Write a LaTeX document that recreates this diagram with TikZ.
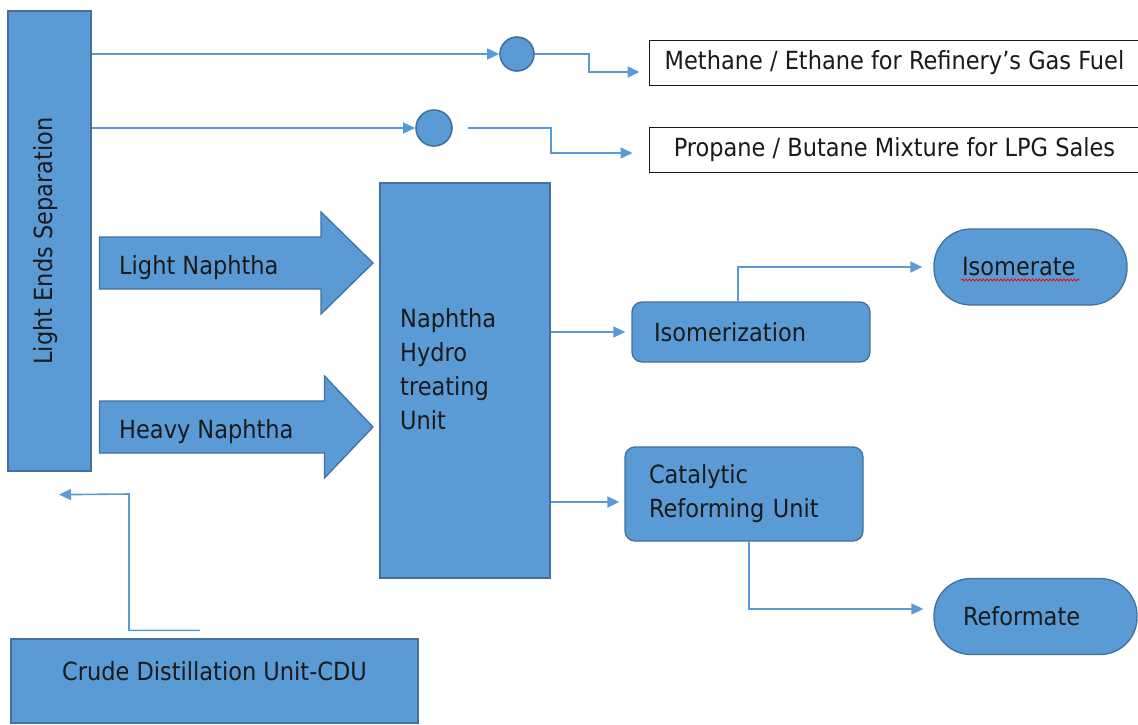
\documentclass[tikz,border=0pt]{standalone}
\usepackage{fontspec}
\setmainfont{DejaVu Sans Condensed}
\usepackage{xcolor}
\usetikzlibrary{arrows.meta, positioning, decorations.pathmorphing}

\definecolor{unitblue}{HTML}{5B9BD5}
\definecolor{unitedge}{HTML}{41719C}
\definecolor{flowblue}{HTML}{5B9BD5}
\definecolor{inkgray}{HTML}{1A1A1A}

\begin{document}
\begin{tikzpicture}[x=1pt, y=-1pt,
    txt/.style={inner sep=0pt, text=inkgray, font=\fontsize{25}{34}\selectfont},
    unit/.style={draw=unitedge, fill=unitblue, line width=1.3pt, inner sep=0pt},
    box/.style={unit, txt, rounded corners=10pt, align=left, minimum height=60pt},
    product/.style={unit, txt, rounded corners=37pt, align=left, minimum height=76pt},
    sales/.style={draw=inkgray, fill=white, line width=1pt, txt, minimum width=491pt, minimum height=45pt},
    drum/.style={unit, circle, line width=1.6pt},
    flow/.style={draw=flowblue, line width=1.6pt, -{Triangle[length=12pt, width=11pt]}},
    spell/.style={red, line width=0.8pt, decorate, decoration={snake, amplitude=1pt, segment length=3.5pt}}]
    \useasboundingbox (0,0) rectangle (1138,724);

    % Light ends column
    \node[unit, minimum width=83pt, minimum height=460pt] (les) at (49.5,241) {};
    \node[txt, rotate=90] (lestext) at (46,241) {Light Ends Separation};

    % Gas drums and sales
    \node[drum, minimum size=34pt] (gas1) at (517,54) {};
    \node[drum, minimum size=36pt] (gas2) at (434,128) {};
    \node[sales] (fuel) at (894.5,62.5) {Methane / Ethane for Refinery’s Gas Fuel};
    \node[sales] (lpg) at (894.5,149.5) {Propane / Butane Mixture for LPG Sales};

    % Naphtha cuts
    \foreach \yc/\hx/\name/\label in {263/321/ln/Light Naphtha, 427/324.5/hn/Heavy Naphtha} {
        \filldraw[unit] (99.5,\yc-26) -- (\hx,\yc-26) -- (\hx,\yc-51) -- (373,\yc)
            -- (\hx,\yc+51) -- (\hx,\yc+26) -- (99.5,\yc+26) -- cycle;
        \node[txt, anchor=base west] (\name) at (119,\yc+11) {\label};
    }

    % Hydrotreater
    \node[unit, minimum width=170pt, minimum height=395pt] (nht) at (465,380.5) {};
    \node[txt, anchor=north west, align=left] (nhttext) at (400,308) {Naphtha\\Hydro\\treating\\Unit};

    % Downstream units
    \node[box, text width=194pt, inner xsep=22pt] (iso) at (751,332) {Isomerization};
    \node[box, text width=190pt, inner xsep=24pt, minimum height=94pt] (cat) at (744,494) {Catalytic\\Reforming Unit};
    \node[product, text width=137pt, inner xsep=28pt] (isomer) at (1030.5,267) {Isomerate};
    \node[product, text width=145pt, inner xsep=29pt] (reform) at (1035.5,616.5) {Reformate};
    \draw[spell] ([xshift=28pt, yshift=-13pt]isomer.west) -- ++(118,0);

    % Crude unit
    \node[unit, minimum width=407pt, minimum height=84pt] (cdu) at (214.5,681) {};
    \node[txt] (cdutext) at (214.5,671) {Crude Distillation Unit-CDU};

    % Off-gas lines
    \draw[flow] (les.east |- gas1) -- (gas1);
    \draw[flow, shorten >=9pt] (gas1.east) -- ++(54,0) |- ([yshift=-9.5pt]fuel.west);
    \draw[flow] (les.east |- gas2) -- (gas2);
    \draw[flow, shorten <=15pt, shorten >=16pt] (gas2.east) -- ++(98,0) |- ([yshift=-3.5pt]lpg.west);

    % Treated naphtha
    \coordinate (catin) at ([yshift=-8pt]cat.west);
    \draw[flow, shorten >=6pt] (nht.east |- iso.west) -- (iso.west);
    \draw[flow, shorten >=5pt] (nht.east |- catin) -- (catin);
    \draw[flow, shorten >=11pt] ([xshift=-13pt]iso.north) |- (isomer.west);
    \draw[flow, shorten >=10pt] ([xshift=5pt]cat.south) |- ([yshift=7.5pt]reform.west);

    % Crude feed
    \coordinate (fbturn) at (129,494);
    \draw[flow] ([xshift=-14.5pt, yshift=8pt]cdu.north) -| (fbturn) -- ([xshift=9.5pt, yshift=-23pt]les.south);
\end{tikzpicture}
\end{document}
